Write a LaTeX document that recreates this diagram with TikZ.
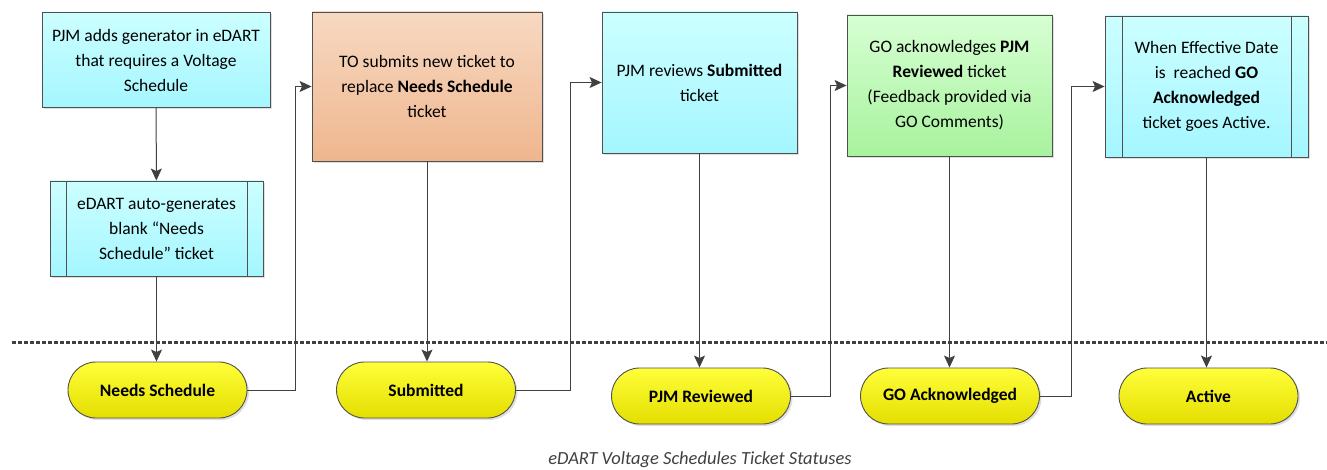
\documentclass[tikz,border=0pt]{standalone}
\usepackage{fontspec}
\setmainfont{Carlito}
\usepackage{tikz}
\usetikzlibrary{positioning, arrows.meta, shadows}
\definecolor{cyantop}{HTML}{CCFFFF}
\definecolor{cyanbot}{HTML}{A4F6FF}
\definecolor{orangetop}{HTML}{F7D9C2}
\definecolor{orangebot}{HTML}{EFB68E}
\definecolor{greentop}{HTML}{D6FFD2}
\definecolor{greenbot}{HTML}{A8F29E}
\definecolor{pilltop}{HTML}{FFFF3A}
\definecolor{pillbot}{HTML}{E4DE00}
\definecolor{boxline}{HTML}{505050}
\definecolor{arrowgray}{HTML}{404040}
\tikzset{
    >={Stealth[length=12pt, width=11pt, inset=2.5pt]}, % filled arrow heads
    task/.style={draw=boxline, line width=0.9pt, inner sep=0pt, align=center,
        font=\fontsize{17.5}{25}\selectfont,
        drop shadow={opacity=0.25, shadow xshift=2pt, shadow yshift=-2pt}}, % every step box
    cyanbox/.style={task, top color=cyantop, bottom color=cyanbot},
    orangebox/.style={task, top color=orangetop, bottom color=orangebot},
    greenbox/.style={task, top color=greentop, bottom color=greenbot},
    sidebars/.style={path picture={
        \draw[boxline, line width=0.9pt]
        ([xshift=#1]path picture bounding box.north west) -- ([xshift=#1]path picture bounding box.south west)
        ([xshift=-#1]path picture bounding box.north east) -- ([xshift=-#1]path picture bounding box.south east);}},
    status/.style={task, rounded corners=28pt, top color=pilltop, bottom color=pillbot,
        font=\fontsize{17.5}{25}\selectfont\bfseries, minimum width=179pt, minimum height=56pt}, % the ticket statuses
    flow/.style={->, draw=arrowgray, line width=1pt},
    sepline/.style={draw=arrowgray, line width=3pt, dash pattern=on 4pt off 2pt},
}

\begin{document}
\begin{tikzpicture}[x=1pt, y=-1pt]
    \useasboundingbox (0,0) rectangle (1327,470);
    % steps
    \node[cyanbox, minimum width=228pt, minimum height=95pt] (add) at (156,60)
        {PJM adds generator in eDART\\that requires a Voltage\\Schedule};
    \node[cyanbox, sidebars=16pt, minimum width=213pt, minimum height=95pt] (auto) at (156.5,228.5)
        {eDART auto-generates\\blank “Needs\\Schedule” ticket};
    \node[orangebox, minimum width=230pt, minimum height=149pt] (submit) at (427,86.5)
        {TO submits new ticket to\\replace \textbf{Needs Schedule}\\ticket};
    \node[cyanbox, minimum width=195pt, minimum height=141pt] (review) at (699.5,82.5)
        {PJM reviews \textbf{Submitted}\\ticket};
    \node[greenbox, minimum width=205pt, minimum height=141pt] (ack) at (949.5,85.5)
        {GO acknowledges \textbf{PJM}\\\textbf{Reviewed} ticket\\(Feedback provided via\\GO Comments)};
    \node[cyanbox, sidebars=17pt, minimum width=203pt, minimum height=141pt] (effective) at (1206.5,86.5)
        {When Effective Date\\is\ \ reached \textbf{GO}\\\textbf{Acknowledged}\\ticket goes Active.};
    % statuses
    \node[status] (needs) at (157.5,390) {Needs Schedule};
    \node[status] (submitted) at (426,390) {Submitted};
    \node[status] (reviewed) at (701,396) {PJM Reviewed};
    \node[status] (acknowledged) at (950,396) {GO Acknowledged};
    \node[status] (active) at (1208.5,396) {Active};
    \draw[sepline] (12,342) -- (1327,342);
    % connectors
    \draw[flow] (add) -- (auto);
    \draw[flow] (auto.south) -- (auto.south |- needs.north);
    \draw[flow] (needs.east) -- ++(48,0) |- (submit.west);
    \draw[flow] (submit.south) -- (submit.south |- submitted.north);
    \draw[flow] (submitted.east) -- ++(55,0) |- (review.west);
    \draw[flow] (review.south) -- (review.south |- reviewed.north);
    \draw[flow] (reviewed.east) -- ++(40,0) |- (ack.west);
    \draw[flow] (ack.south) -- (ack.south |- acknowledged.north);
    \draw[flow] (acknowledged.east) -- ++(32,0) |- (effective.west);
    \draw[flow] (effective.south) -- (effective.south |- active.north);
    \node[font=\fontsize{18.5}{22}\selectfont\itshape, text=arrowgray] (caption) at (700,460)
        {eDART Voltage Schedules Ticket Statuses};
\end{tikzpicture}
\end{document}
